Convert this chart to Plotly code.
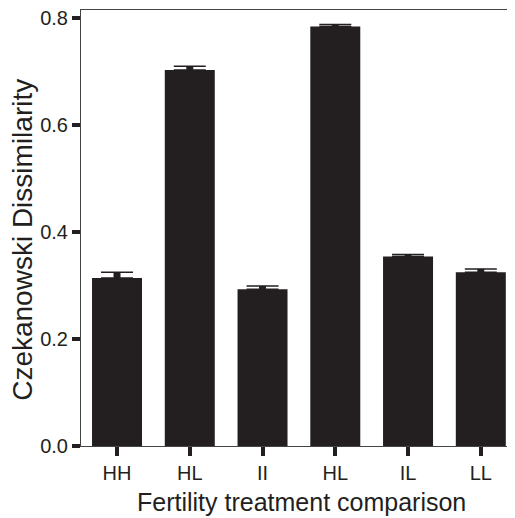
import plotly.graph_objects as go

categories = ["HH", "HL", "II", "HL ", "IL", "LL"]
tick_labels = ["HH", "HL", "II", "HL", "IL", "LL"]
dissimilarity = [0.314, 0.703, 0.293, 0.784, 0.354, 0.325]
std_error = [0.011, 0.007, 0.006, 0.004, 0.004, 0.006]
y_tick_values = [0, 0.2, 0.4, 0.6, 0.8]
y_tick_labels = ["0.0", "0.2", "0.4", "0.6", "0.8"]

x_pos = list(range(len(categories)))
DARK = "#231f20"

fig = go.Figure()
fig.add_trace(go.Bar(
    x=x_pos, y=dissimilarity, width=0.687,
    marker=dict(color=DARK, line=dict(width=0)),
    error_y=dict(type="data", array=std_error, arrayminus=[0]*len(std_error),
                 symmetric=False, color=DARK, thickness=1.5, width=16),
    showlegend=False,
))
fig.add_trace(go.Scatter(
    x=x_pos, y=dissimilarity, mode="markers",
    marker=dict(size=1, color="rgba(0,0,0,0)"),
    error_y=dict(type="data", array=std_error, arrayminus=[0]*len(std_error),
                 symmetric=False, color=DARK, thickness=7, width=0),
    showlegend=False, hoverinfo="skip",
))

# page body has an 8px margin, so the figure is sized to the remaining area
fig.update_layout(
    width=507, height=510,
    margin=dict(l=73, r=0, t=2, b=72, autoexpand=False),
    paper_bgcolor="white", plot_bgcolor="white",
    font=dict(family="Liberation Sans, Arial, sans-serif", color=DARK, size=20),
    xaxis=dict(
        range=[-0.495, 5.47], tickmode="array", tickvals=x_pos, ticktext=tick_labels,
        showline=True, linecolor="#444", linewidth=1, mirror=True,
        ticks="outside", ticklen=9, tickwidth=4, tickcolor=DARK,
        showgrid=False, zeroline=False, tickfont=dict(size=20),
        ticklabeloverflow="allow", automargin=False,
    ),
    yaxis=dict(
        range=[0, 0.815], tickmode="array", tickvals=y_tick_values,
        ticktext=y_tick_labels,
        showline=True, linecolor="#444", linewidth=1,
        ticks="outside", ticklen=8, tickwidth=4, tickcolor=DARK,
        showgrid=False, zeroline=False, tickfont=dict(size=20),
        ticklabeloverflow="allow", automargin=False,
    ),
    annotations=[
        dict(text="Czekanowski Dissimilarity", x=-0.134, y=0.4725, xref="paper", yref="paper",
             textangle=-90, showarrow=False, xanchor="center", yanchor="middle",
             borderpad=0, font=dict(size=28)),
        dict(text="Fertility treatment comparison", x=0.509, y=-0.128, xref="paper", yref="paper",
             showarrow=False, xanchor="center", yanchor="middle", font=dict(size=25)),
    ],
)

fig.write_html("out.html")
